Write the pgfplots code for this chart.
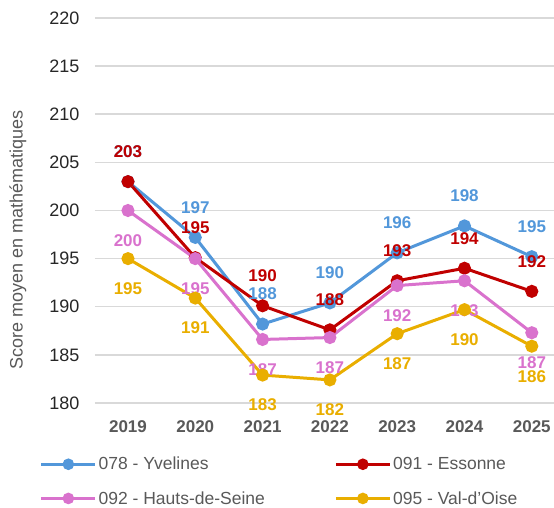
\documentclass[border=0pt]{standalone}
\usepackage{fontspec}
\setmainfont{Liberation Sans}
\usepackage{pgfplots}
\pgfplotsset{compat=1.18}
\definecolor{cblue}{HTML}{5297DA}
\definecolor{cred}{HTML}{C00000}
\definecolor{cpink}{HTML}{D972CD}
\definecolor{cgold}{HTML}{E9AE00}
\definecolor{gridgray}{HTML}{D9D9D9}
\definecolor{txtgray}{HTML}{595959}

\pgfplotsset{
  labup/.style={nodes near coords={\pgfmathprintnumber[fixed,precision=0]{\pgfplotspointmeta}},
    every node near coord/.append style={anchor=center, yshift=30pt,
      font=\bfseries\fontsize{17}{17}\selectfont, text=#1}},
  labdown/.style={nodes near coords={\pgfmathprintnumber[fixed,precision=0]{\pgfplotspointmeta}},
    every node near coord/.append style={anchor=center, yshift=-30pt,
      font=\bfseries\fontsize{17}{17}\selectfont, text=#1}},
}

\begin{document}
\begin{tikzpicture}[x=1pt,y=1pt]
\useasboundingbox (0,0) rectangle (554,508);
\begin{axis}[
  at={(95pt,105pt)}, anchor=south west,
  scale only axis, width=459pt, height=385pt,
  xmin=-0.49, xmax=6.33, ymin=180, ymax=220,
  ytick={180,185,...,220},
  xtick={0,...,6}, xticklabels={2019,2020,2021,2022,2023,2024,2025},
  axis line style={draw=none}, major tick length=0pt,
  ymajorgrids, grid style={draw=gridgray, line width=1.5pt},
  /pgf/number format/assume math mode=true,
  yticklabel style={font=\fontsize{18}{18}\selectfont, text=black!85, xshift=-12pt},
  xticklabel style={font=\bfseries\fontsize{17}{17}\selectfont, text=txtgray, yshift=-14pt},
  ylabel={Score moyen en mathématiques},
  ylabel style={font=\fontsize{18}{18}\selectfont, text=txtgray,
    at={(axis description cs:-0.168,0.423)}, anchor=center},
  point meta=y,
  clip=false,
  legend columns=2,
  legend cell align=left,
  legend style={draw=none, fill=none, at={(axis description cs:-0.12,-0.135)},
    anchor=north west, inner sep=0pt, row sep=16pt,
    font=\fontsize{17.5}{17.5}\selectfont, text=txtgray},
  legend image code/.code={\draw[mark repeat=2, mark phase=2, #1, line width=2.5pt, mark size=4.5pt]
    plot coordinates {(0pt,0pt) (27pt,0pt) (54pt,0pt)};},
]
\addplot[cblue, line width=3pt, mark=*, mark size=5pt, labup=cblue] coordinates
  {(0,203.0) (1,197.2) (2,188.2) (3,190.4) (4,195.6) (5,198.4) (6,195.2)};
\addlegendentry{\makebox[234pt][l]{078 - Yvelines}}
\addplot[cred, line width=3pt, mark=*, mark size=5pt, labup=cred] coordinates
  {(0,203.0) (1,195.1) (2,190.1) (3,187.6) (4,192.7) (5,194.0) (6,191.6)};
\addlegendentry{091 - Essonne}
\addplot[cpink, line width=3pt, mark=*, mark size=5pt, labdown=cpink] coordinates
  {(0,200.0) (1,195.0) (2,186.6) (3,186.8) (4,192.2) (5,192.7) (6,187.3)};
\addlegendentry{\makebox[234pt][l]{092 - Hauts-de-Seine}}
\addplot[cgold, line width=3pt, mark=*, mark size=5pt, labdown=cgold] coordinates
  {(0,195.0) (1,190.9) (2,182.9) (3,182.4) (4,187.2) (5,189.7) (6,185.9)};
\addlegendentry{095 - Val-d'Oise}
\end{axis}
\end{tikzpicture}
\end{document}
